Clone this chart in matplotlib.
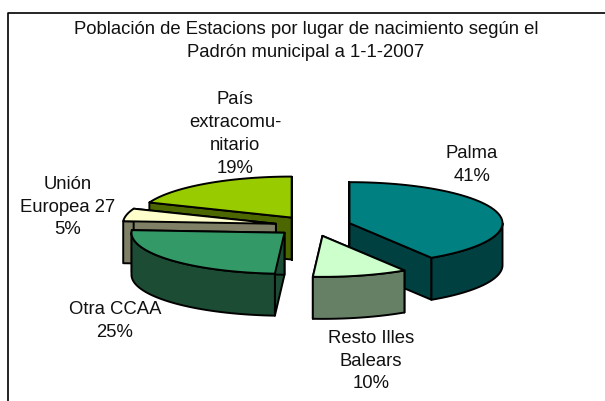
import numpy as np
import matplotlib
matplotlib.use('Agg')
import matplotlib.pyplot as plt
from matplotlib.patches import Polygon

# datos del grafico
lugares = ['Palma', 'Resto Illes\nBalears', 'Otra CCAA', 'Unión\nEuropea 27', 'País\nextracomu-\nnitario']
valores = [41, 10, 25, 5, 19]
titulo = 'Población de Estacions por lugar de nacimiento según el\nPadrón municipal a 1-1-2007'

col_top = ['#008080', '#CCFFCC', '#339966', '#FFFFCC', '#99CC00']
col_side = ['#004040', '#668066', '#1C4C33', '#808066', '#4C6600']
label_pos = [(472, 165), (371, 361), (115, 321), (68, 207), (235, 134)]
orden = [4, 3, 2, 0, 1]

# geometria del pie en pixeles
cx, cy = 313, 226
R, Ry = 153, 41
alto = 42
explode = 38


def punto(c, ang):
    return c[0] + R*np.sin(ang), c[1] - Ry*np.cos(ang)


def arco(c, a0, a1):
    t = np.linspace(a0, a1, 60)
    return np.column_stack([c[0] + R*np.sin(t), c[1] - Ry*np.cos(t)])


def dibuja_porcion(ax, a0, a1, top, side):
    mid = (a0 + a1)/2
    c = (cx + explode*np.sin(mid), cy - explode*Ry/R*np.cos(mid))
    kw = dict(edgecolor='black', lw=1.4, joinstyle='round')
    # caras de corte
    for a in (a0, a1):
        p = punto(c, a)
        quad = [c, p, (p[0], p[1]+alto), (c[0], c[1]+alto)]
        ax.add_patch(Polygon(quad, closed=True, facecolor=side, **kw))
    # pared exterior, solo la parte de delante
    b0 = max(a0, np.pi/2)
    b1 = min(a1, 3*np.pi/2)
    if b1 > b0:
        pts = arco(c, b0, b1)
        low = pts[::-1] + [0, alto]
        ax.add_patch(Polygon(np.vstack([pts, low]), closed=True, facecolor=side, **kw))
    # tapa
    pts = np.vstack([[c], arco(c, a0, a1)])
    ax.add_patch(Polygon(pts, closed=True, facecolor=top, **kw))


fig = plt.figure(figsize=(6.05, 4.01), dpi=100)
ax = fig.add_axes([0, 0, 1, 1])
ax.set_xlim(0, 605)
ax.set_ylim(401, 0)
ax.axis('off')
plt.rcParams['font.family'] = ['Liberation Sans', 'DejaVu Sans']

# marco, sin lado derecho ni inferior
ax.plot([7.5, 7.5, 605], [401, 12.5, 12.5], color='black', lw=1.2)

fracs = np.array(valores)/sum(valores)*2*np.pi
ini = np.concatenate([[0], np.cumsum(fracs)[:-1]])
fin = np.cumsum(fracs)
for i in orden:
    dibuja_porcion(ax, ini[i], fin[i], col_top[i], col_side[i])

ax.text(306, 41, titulo, ha='center', va='center', fontsize=13.3, color='#111111', linespacing=1.5)
for i in range(len(valores)):
    ax.text(label_pos[i][0], label_pos[i][1], lugares[i] + '\n%d%%' % valores[i],
            ha='center', va='center', fontsize=13.3, color='#111111', linespacing=1.45)

fig.savefig('out.png', dpi=100)
